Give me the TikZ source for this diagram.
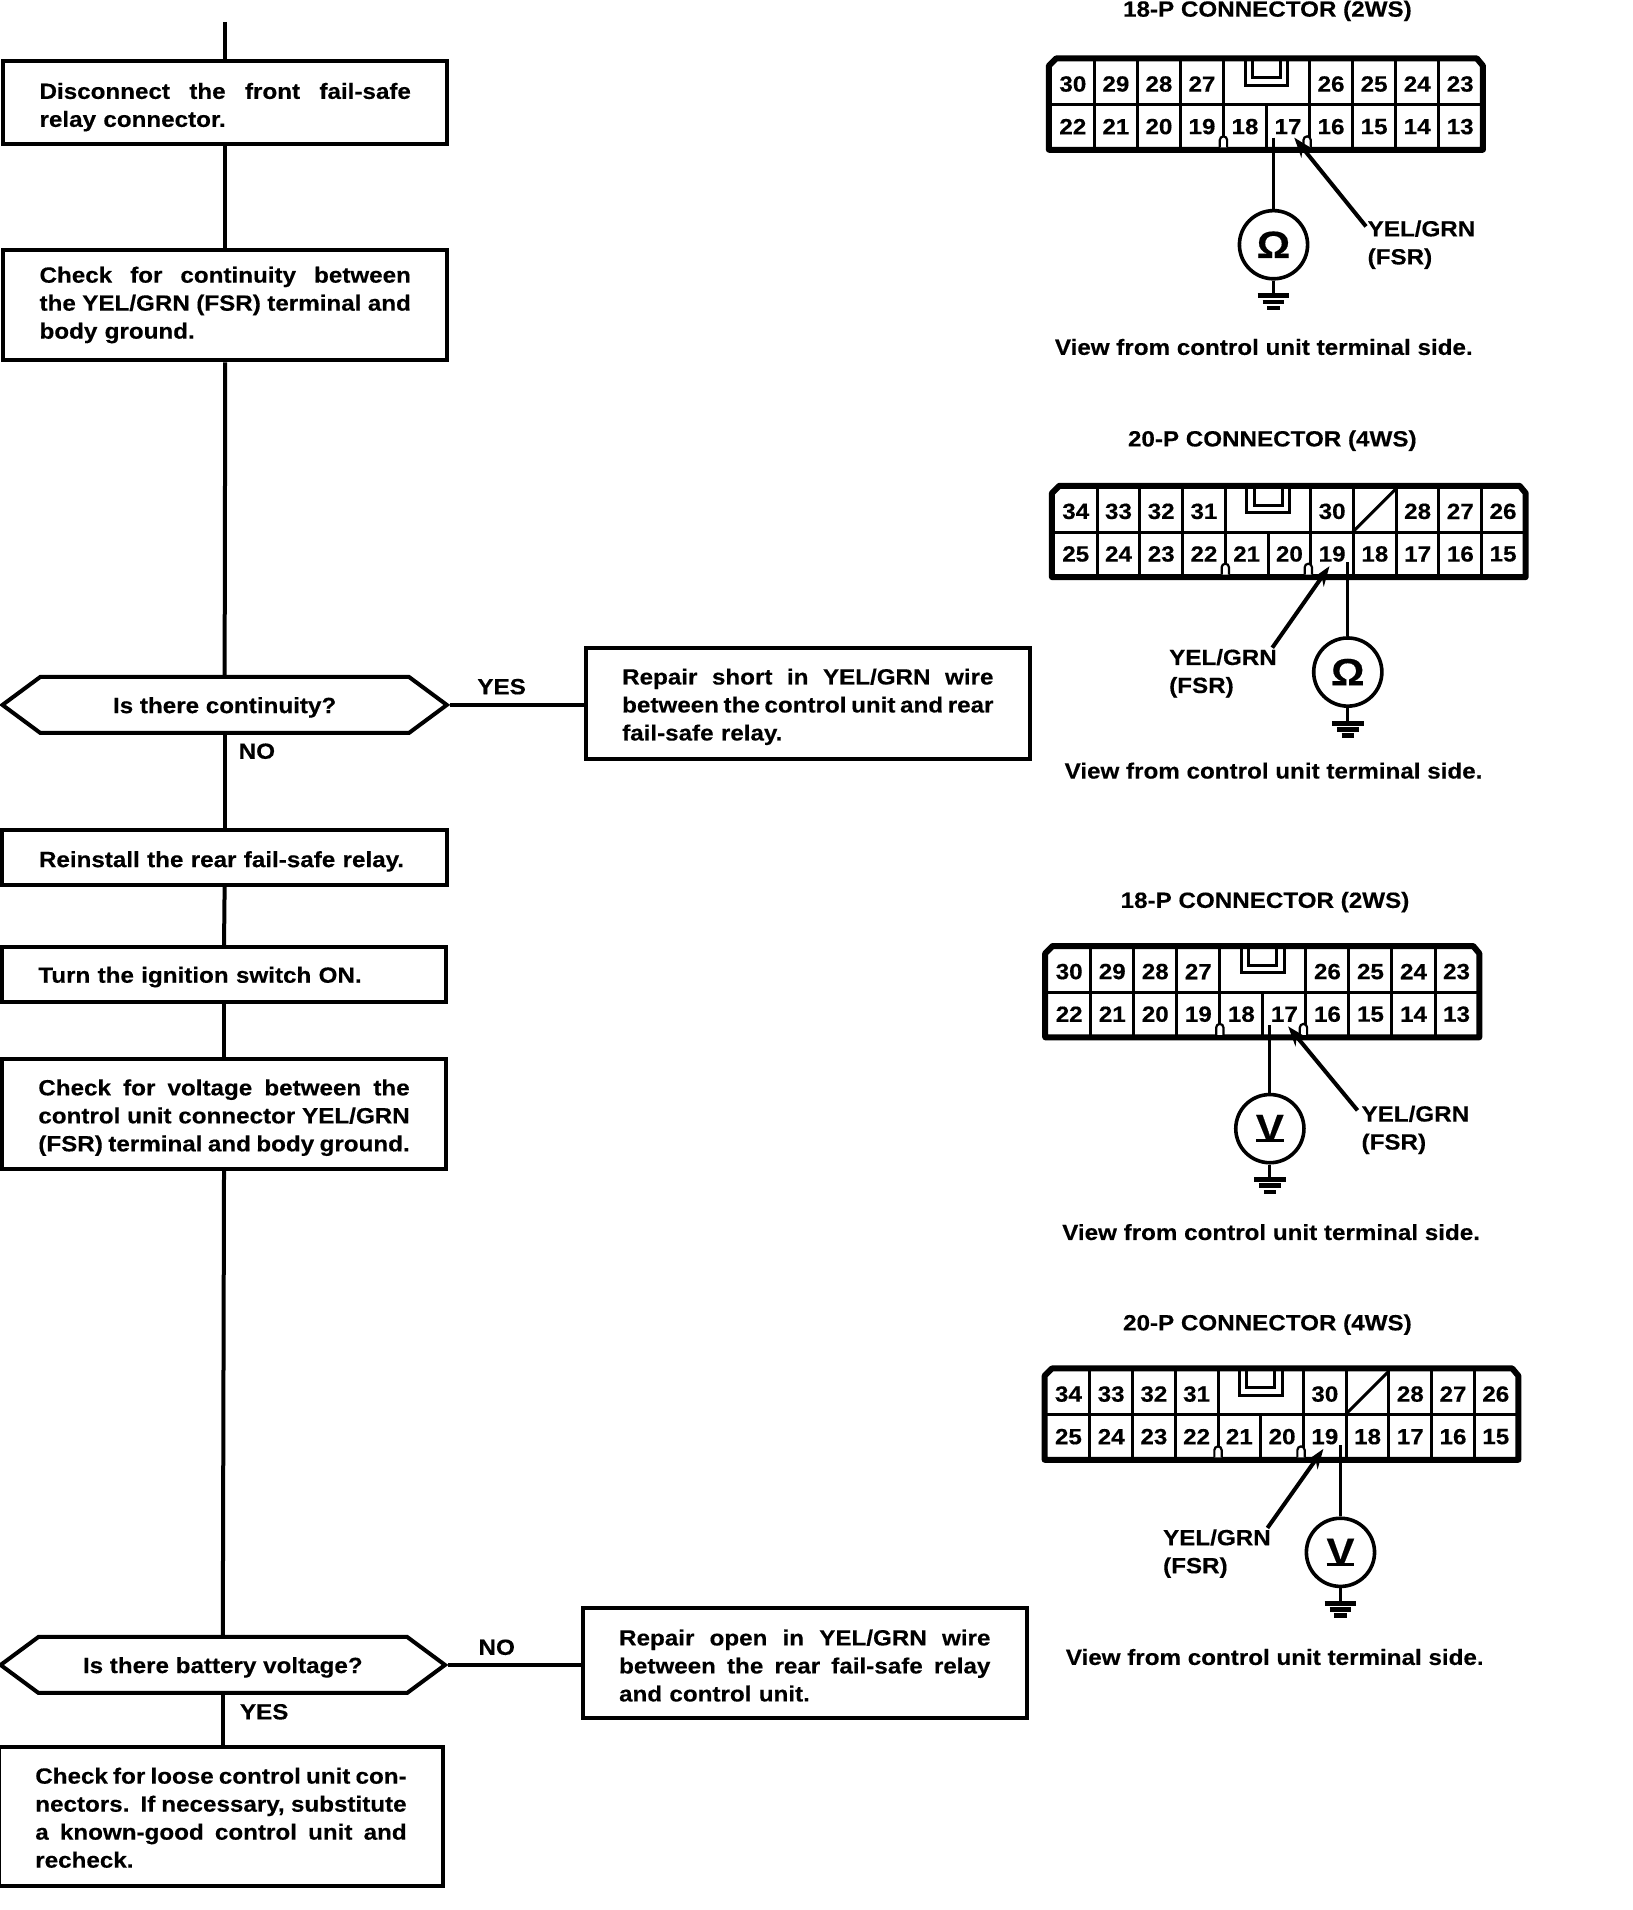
\documentclass[tikz,border=0pt]{standalone}
\usepackage{fontspec}
\setmainfont[BoldFeatures={FakeStretch=1.1,FakeBold=0.35}]{Liberation Sans}
\usetikzlibrary{arrows.meta,shapes.symbols,calc}
\newlength{\U}\setlength{\U}{0.60875pt}
\newcommand{\jl}[1]{\makebox[305\U][s]{\spaceskip=.33em plus 1fil minus .2em\relax#1}}
\tikzset{
  txt/.style={font=\fontsize{11}{14}\selectfont\bfseries},
  drop/.style={execute at begin node={\rule{0pt}{\dimexpr 8pt+\U*2*#1\relax}}},
  stepbox/.style={draw=black,line width=2pt,txt,text width=305\U,inner xsep=30\U,inner ysep=0pt,align=left},
  hexbox/.style={draw=black,line width=2pt,txt,signal,signal to=east and west,signal pointer angle=73,minimum width=365\U,minimum height=46\U,inner sep=0pt,drop=2},
  flow/.style={draw=black,line width=2pt},
  lab/.style={txt,inner sep=0pt},
  cell/.style={txt,inner sep=0pt,anchor=center},
  grid/.style={draw=black,line width=1.5pt},
  wire/.style={draw=black,line width=1.6pt},
  shell/.style={draw=black,line width=3pt,line join=round},
  meter/.style={draw=black,circle,line width=1.8pt,minimum size=56\U,inner sep=0pt,font=\fontsize{19}{20}\selectfont\bfseries},
  gnd/.style={draw=black,line width=2.4pt},
  lead/.style={draw=black,line width=2pt,-{Stealth[length=10pt,width=7pt]}}
}
% #1 prefix, #2 grid left, #3 top, #4 pitch, #5 number of columns, #6 top list, #7 bottom list, #8 top dividers
\newcommand{\connector}[8]{%
  \pgfmathsetmacro{\xl}{#2}\pgfmathsetmacro{\yt}{#3}\pgfmathsetmacro{\pt}{#4}
  \pgfmathsetmacro{\xr}{#2+#5*#4}
  \foreach \n/\c in {#6}{\node[cell] (#1t\n) at ({#2+(\c+0.5)*#4},{#3+23}) {\n};}
  \foreach \n/\c in {#7}{\node[cell] (#1b\n) at ({#2+(\c+0.5)*#4},{#3+58}) {\n};}
  \draw[grid] (\xl,{\yt+40}) -- (\xr,{\yt+40});
  \foreach \c in {#8}{\draw[grid] ({\xl+\c*\pt},{\yt+2}) -- ({\xl+\c*\pt},{\yt+40});}
  \foreach \c in {1,...,#5}{\draw[grid] ({\xl+\c*\pt},{\yt+40}) -- ({\xl+\c*\pt},{\yt+77});}
  \draw[shell] ({\xl-2},{\yt+77}) -- ({\xl-2},{\yt+8}) -- ({\xl+4},{\yt+2}) -- ({\xr-4},{\yt+2}) -- ({\xr+1},{\yt+8}) -- ({\xr+1},{\yt+77}) -- cycle;
  \draw[grid] ({\xl+5*\pt-17.5},{\yt+2}) -- ({\xl+5*\pt-17.5},{\yt+24}) -- ({\xl+5*\pt+17.5},{\yt+24}) -- ({\xl+5*\pt+17.5},{\yt+2});
  \draw[grid] ({\xl+5*\pt-11.5},{\yt+2}) -- ({\xl+5*\pt-11.5},{\yt+18}) -- ({\xl+5*\pt+11.5},{\yt+18}) -- ({\xl+5*\pt+11.5},{\yt+2});
  \draw[grid,line width=1.1pt,fill=white] ({\xl+4*\pt-3},{\yt+75}) -- ({\xl+4*\pt-3},{\yt+69}) arc (180:0:3\U) -- ({\xl+4*\pt+3},{\yt+75});
  \draw[grid,line width=1.1pt,fill=white] ({\xl+6*\pt-5},{\yt+75}) -- ({\xl+6*\pt-5},{\yt+69}) arc (180:0:3\U) -- ({\xl+6*\pt+1},{\yt+75});
}
% #1 prefix, #2 x, #3 circle y, #4 probe y, #5 symbol
\newcommand{\tester}[5]{%
  \coordinate (#1probe) at (#2,#4);
  \node[meter] (#1m) at (#2,#3) {#5};
  \coordinate (#1g) at (#2,{#3+42});
  \draw[wire] (#1probe) -- (#1m.north);
  \draw[wire] (#1m.south) -- (#1g);
  \draw[gnd] ($(#1g)+(-13,0)$) -- ($(#1g)+(13,0)$);
  \draw[gnd] ($(#1g)+(-9,5)$) -- ($(#1g)+(9,5)$);
  \draw[gnd] ($(#1g)+(-5,10)$) -- ($(#1g)+(5,10)$);
}
\newcommand{\Vsym}{\setbox0=\hbox{V}\hbox to \wd0{V\hss}\llap{\rule[-0.6pt]{\wd0}{1.6pt}}}
\begin{document}
\begin{tikzpicture}[x=0.60875pt,y=-0.60875pt]
\useasboundingbox (0,0) rectangle ({1632/1.2175},{1910/1.2175});
% flow boxes
\coordinate (top) at (185,18);
\node[stepbox,drop=4,minimum height=68\U] (b1) at (185,84) {\jl{Disconnect the front fail-safe}\\relay connector.};
\node[stepbox,drop=0,minimum height=91\U] (b2) at (185,250.5) {\jl{Check for continuity between}\\\jl{the YEL/GRN (FSR) terminal and}\\body ground.};
\node[hexbox] (d1) at (184.5,579) {Is there continuity?};
\node[stepbox,drop=3,minimum height=91\U] (r1) at (663.5,577.5) {\jl{Repair short in YEL/GRN wire}\\\jl{between the control unit and rear}\\fail-safe relay.};
\node[stepbox,drop=3,minimum height=45\U] (b3) at (184.5,704.5) {Reinstall the rear fail-safe relay.};
\node[stepbox,drop=2,minimum height=45\U] (b4) at (184,800.5) {Turn the ignition switch ON.};
\node[stepbox,drop=3,minimum height=90\U] (b5) at (184,915) {\jl{Check for voltage between the}\\\jl{control unit connector YEL/GRN}\\\jl{(FSR) terminal and body ground.}};
\node[hexbox] (d2) at (183,1367.5) {Is there battery voltage?};
\node[stepbox,drop=2,minimum height=90\U] (r2) at (661,1366) {\jl{Repair open in YEL/GRN wire}\\\jl{between the rear fail-safe relay}\\and control unit.};
\node[stepbox,drop=1,minimum height=114\U] (b6) at (181.5,1492) {\jl{Check for loose control unit con-}\\\jl{nectors. If necessary, substitute}\\\jl{a known-good control unit and}\\recheck.};
\draw[flow] (top) -- (b1.north);
\draw[flow] (b1.south) -- (b2.north);
\draw[flow] (b2.south) -- (d1.north);
\draw[flow] (d1.south) -- (b3.north);
\draw[flow] (b3.south) -- (b4.north);
\draw[flow] (b4.south) -- (b5.north);
\draw[flow] (b5.south) -- (d2.north);
\draw[flow] (d2.south) -- (d2.south |- b6.north);
\draw[flow] (d1.east) -- (d1.east -| r1.west);
\draw[flow] (d2.east) -- (d2.east -| r2.west);
\node[lab] (yes1) at (412,564) {YES};
\node[lab] (no1) at (211,617) {NO};
\node[lab] (no2) at (408,1353) {NO};
\node[lab] (yes2) at (217,1406) {YES};
% connector A
\node[lab] (ta) at (1041,9) {18-P CONNECTOR (2WS)};
\connector{a}{863.5}{46}{35.35}{10}{30/0,29/1,28/2,27/3,26/6,25/7,24/8,23/9}{22/0,21/1,20/2,19/3,18/4,17/5,16/6,15/7,14/8,13/9}{1,2,3,4,6,7,8,9}
\tester{a}{1046}{201}{113}{Ω}
\node[lab,align=left,anchor=west] (la) at (1123,201) {YEL/GRN\\(FSR)};
\coordinate (laend) at (1122,186);
\coordinate (latip) at (1063,113);
\draw[lead] (laend) -- (latip);
\node[lab] (va) at (1038,285) {View from control unit terminal side.};
% connector B
\node[lab] (tb) at (1045,362) {20-P CONNECTOR (4WS)};
\connector{b}{866}{397}{35.1}{11}{34/0,33/1,32/2,31/3,30/6,28/8,27/9,26/10}{25/0,24/1,23/2,22/3,21/4,20/5,19/6,18/7,17/8,16/9,15/10}{1,2,3,4,6,7,8,9,10}
\coordinate (bsa) at (1111,437);
\coordinate (bsb) at (1146,402);
\draw[grid] (bsa) -- (bsb);
\tester{b}{1107}{552}{462}{Ω}
\node[lab,align=left,anchor=west] (lb) at (960,553) {YEL/GRN\\(FSR)};
\coordinate (lbend) at (1045,532);
\coordinate (lbtip) at (1092,465);
\draw[lead] (lbend) -- (lbtip);
\node[lab] (vb) at (1046,633) {View from control unit terminal side.};
% connector C
\node[lab] (tc) at (1039,741) {18-P CONNECTOR (2WS)};
\connector{c}{860.5}{775}{35.35}{10}{30/0,29/1,28/2,27/3,26/6,25/7,24/8,23/9}{22/0,21/1,20/2,19/3,18/4,17/5,16/6,15/7,14/8,13/9}{1,2,3,4,6,7,8,9}
\tester{c}{1043}{927}{842}{\Vsym}
\node[lab,align=left,anchor=west] (lc) at (1118,928) {YEL/GRN\\(FSR)};
\coordinate (lcend) at (1115,912);
\coordinate (lctip) at (1058,843);
\draw[lead] (lcend) -- (lctip);
\node[lab] (vc) at (1044,1012) {View from control unit terminal side.};
% connector D
\node[lab] (td) at (1041,1088) {20-P CONNECTOR (4WS)};
\connector{d}{860}{1122}{35.1}{11}{34/0,33/1,32/2,31/3,30/6,28/8,27/9,26/10}{25/0,24/1,23/2,22/3,21/4,20/5,19/6,18/7,17/8,16/9,15/10}{1,2,3,4,6,7,8,9,10}
\coordinate (dsa) at (1105,1162);
\coordinate (dsb) at (1140,1127);
\draw[grid] (dsa) -- (dsb);
\tester{d}{1101}{1275}{1187}{\Vsym}
\node[lab,align=left,anchor=west] (ld) at (955,1276) {YEL/GRN\\(FSR)};
\coordinate (ldend) at (1041,1255);
\coordinate (ldtip) at (1087,1190);
\draw[lead] (ldend) -- (ldtip);
\node[lab] (vd) at (1047,1361) {View from control unit terminal side.};
\end{tikzpicture}
\end{document}
